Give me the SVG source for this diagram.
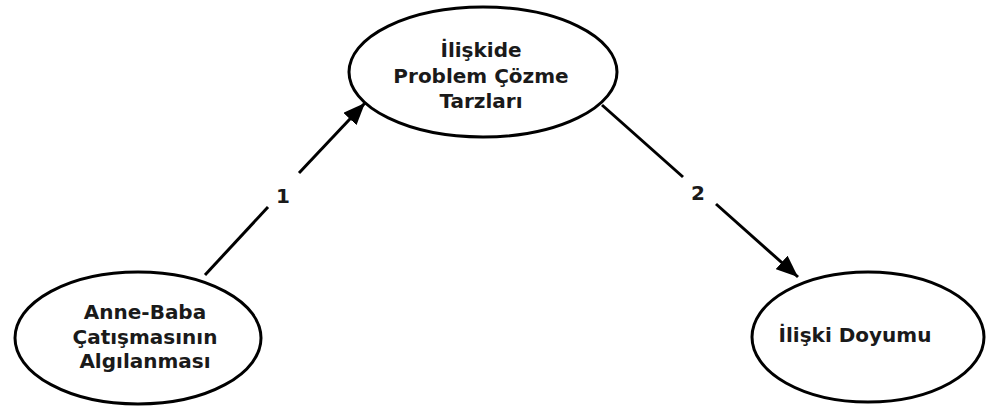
<svg xmlns="http://www.w3.org/2000/svg" width="988" height="406" viewBox="0 0 988 406">
<style>
.node ellipse{fill:#fff;stroke:#000;stroke-width:3}
.lbl{font-family:"DejaVu Sans",Verdana,sans-serif;font-weight:bold;font-size:20px;fill:#1a1a1a;text-anchor:middle}
.edge{stroke:#000;stroke-width:3;fill:none}
</style>
<defs>
<marker id="ah" markerUnits="userSpaceOnUse" markerWidth="22" markerHeight="18" refX="22" refY="9" orient="auto">
<path d="M0,0 L22,9 L0,18 z" fill="#000"/>
</marker>
</defs>
<rect width="988" height="406" fill="#fff"/>
<g id="connectors">
<line class="edge" x1="205" y1="275" x2="268" y2="207"/>
<line class="edge" x1="299" y1="173" x2="365" y2="103" marker-end="url(#ah)"/>
<text class="lbl" x="283" y="203">1</text>
<line class="edge" x1="602" y1="105" x2="683" y2="177"/>
<line class="edge" x1="716" y1="204" x2="798" y2="277" marker-end="url(#ah)"/>
<text class="lbl" x="698" y="200">2</text>
</g>
<g id="node-top" class="node">
<ellipse cx="483" cy="72" rx="134" ry="65"/>
<text class="lbl" x="481" y="57">İlişkide</text>
<text class="lbl" x="481" y="83">Problem Çözme</text>
<text class="lbl" x="481" y="108">Tarzları</text>
</g>
<g id="node-left" class="node">
<ellipse cx="138" cy="338" rx="123" ry="66"/>
<text class="lbl" x="145" y="319">Anne-Baba</text>
<text class="lbl" x="145" y="344">Çatışmasının</text>
<text class="lbl" x="145" y="368">Algılanması</text>
</g>
<g id="node-right" class="node">
<ellipse cx="868" cy="337" rx="116" ry="65"/>
<text class="lbl" x="855" y="342">İlişki Doyumu</text>
</g>
</svg>
